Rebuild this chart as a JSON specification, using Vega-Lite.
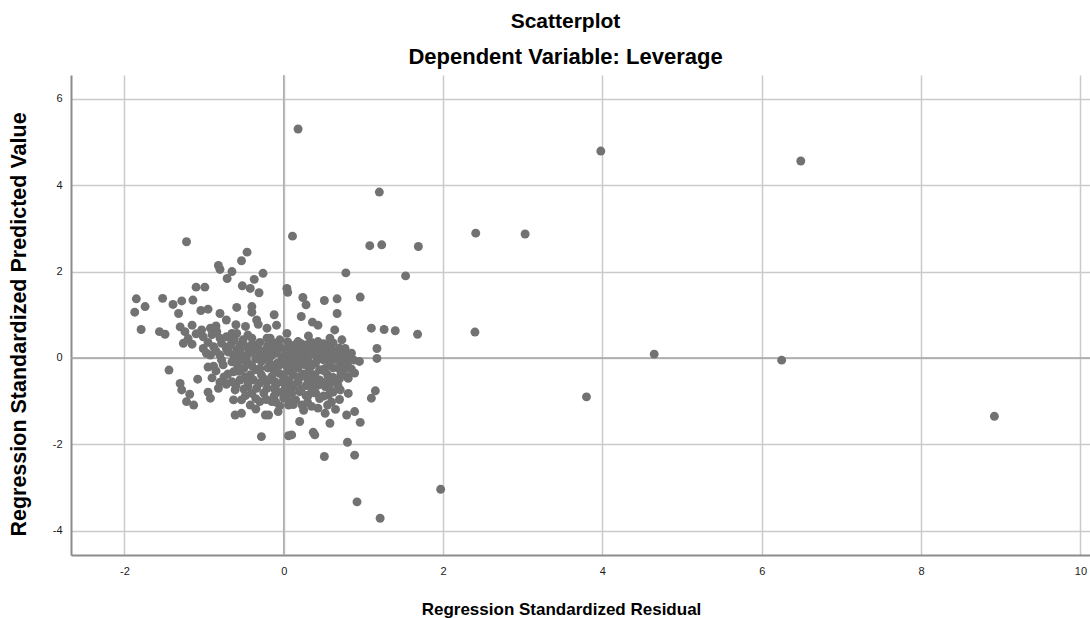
{
  "$schema": "https://vega.github.io/schema/vega-lite/v6.json",
  "autosize": "none",
  "width": 1019,
  "height": 480,
  "padding": {"left": 71, "top": 75, "right": 0, "bottom": 63},
  "background": "white",
  "config": {
    "font": "Liberation Sans",
    "view": {"stroke": null},
    "axis": {
      "domainColor": "#8c8c8c",
      "domainWidth": 2,
      "gridColor": "#cacaca",
      "gridWidth": 1.5,
      "ticks": false,
      "labelFont": "Liberation Sans",
      "labelFontSize": 11,
      "labelColor": "#1a1a1a",
      "titleFont": "Liberation Sans",
      "titleFontWeight": "bold",
      "titleColor": "#000000"
    }
  },
  "title": {
    "text": "Scatterplot",
    "subtitle": "Dependent Variable: Leverage",
    "anchor": "middle",
    "dx": -15,
    "font": "Liberation Sans",
    "fontSize": 21,
    "fontWeight": "bold",
    "color": "#000000",
    "subtitleFont": "Liberation Sans",
    "subtitleFontSize": 22,
    "subtitleFontWeight": "bold",
    "subtitleColor": "#000000",
    "subtitlePadding": 15,
    "offset": 6
  },
  "layer": [
    {
      "data": {"values": [{"v": 0}]},
      "mark": {"type": "rule", "color": "#a4a4a4", "strokeWidth": 1.5},
      "encoding": {
        "y": {"field": "v", "type": "quantitative", "scale": {"domain": [-4.56, 6.55], "nice": false, "zero": false}}
      }
    },
    {
      "data": {"values": [{"v": 0}]},
      "mark": {"type": "rule", "color": "#b0b0b0", "strokeWidth": 1.5},
      "encoding": {
        "x": {"field": "v", "type": "quantitative", "scale": {"domain": [-2.67, 10.12], "nice": false, "zero": false}}
      }
    },
    {
      "data": {
        "values": [
          {"x": 0.18, "y": 5.30}, {"x": 3.98, "y": 4.79}, {"x": 6.49, "y": 4.56}, {"x": 1.20, "y": 3.84},
          {"x": -1.22, "y": 2.69}, {"x": 0.11, "y": 2.82}, {"x": 1.08, "y": 2.60}, {"x": 1.23, "y": 2.62},
          {"x": 2.41, "y": 2.89}, {"x": 3.03, "y": 2.87}, {"x": 1.69, "y": 2.58}, {"x": 1.53, "y": 1.90},
          {"x": 0.78, "y": 1.97}, {"x": 2.40, "y": 0.60}, {"x": 1.68, "y": 0.55}, {"x": 4.65, "y": 0.09},
          {"x": 6.25, "y": -0.05}, {"x": 3.80, "y": -0.90}, {"x": 8.92, "y": -1.35}, {"x": 1.97, "y": -3.04},
          {"x": 0.92, "y": -3.33}, {"x": 1.21, "y": -3.71},
          {"x": -0.46, "y": 2.45}, {"x": -0.53, "y": 2.25}, {"x": -0.82, "y": 2.14}, {"x": -0.80, "y": 2.05},
          {"x": -0.65, "y": 2.00}, {"x": -0.71, "y": 1.84}, {"x": -0.26, "y": 1.96}, {"x": -0.37, "y": 1.82},
          {"x": -0.52, "y": 1.67}, {"x": -0.42, "y": 1.61}, {"x": -0.31, "y": 1.51}, {"x": -1.10, "y": 1.64},
          {"x": -0.99, "y": 1.64}, {"x": -1.85, "y": 1.37}, {"x": -1.52, "y": 1.38}, {"x": -1.39, "y": 1.24},
          {"x": -1.28, "y": 1.32}, {"x": -1.14, "y": 1.34}, {"x": -1.74, "y": 1.19}, {"x": -1.87, "y": 1.06},
          {"x": -1.32, "y": 1.03}, {"x": -1.04, "y": 1.10}, {"x": -0.95, "y": 1.13}, {"x": -0.59, "y": 1.17},
          {"x": -0.40, "y": 1.19}, {"x": -0.40, "y": 1.06}, {"x": -0.80, "y": 1.03}, {"x": -0.72, "y": 0.88},
          {"x": -0.34, "y": 0.88}, {"x": -0.32, "y": 0.78}, {"x": -1.79, "y": 0.66}, {"x": -1.56, "y": 0.61},
          {"x": -1.49, "y": 0.55}, {"x": -1.30, "y": 0.72}, {"x": -1.24, "y": 0.61}, {"x": -1.03, "y": 0.65},
          {"x": -0.92, "y": 0.69}, {"x": -1.01, "y": 0.49}, {"x": -0.84, "y": 0.61}, {"x": -0.80, "y": 0.46},
          {"x": -0.72, "y": 0.49}, {"x": -0.59, "y": 0.57}, {"x": -0.51, "y": 0.42}, {"x": -1.26, "y": 0.34},
          {"x": -1.15, "y": 0.32}, {"x": -1.01, "y": 0.22}, {"x": -0.88, "y": 0.26}, {"x": -0.72, "y": 0.22},
          {"x": -0.59, "y": 0.19}, {"x": -0.46, "y": 0.26}, {"x": -0.34, "y": 0.30}, {"x": -0.21, "y": 0.22},
          {"x": -0.97, "y": 0.11}, {"x": -0.80, "y": 0.07}, {"x": -0.63, "y": 0.07}, {"x": -0.46, "y": 0.07},
          {"x": -0.30, "y": 0.07}, {"x": -0.21, "y": 0.46}, {"x": -0.21, "y": 0.69},
          {"x": -1.44, "y": -0.28}, {"x": -1.08, "y": -0.49}, {"x": -1.30, "y": -0.59}, {"x": -1.28, "y": -0.74},
          {"x": -1.18, "y": -0.84}, {"x": -1.22, "y": -1.01}, {"x": -1.13, "y": -1.09}, {"x": -0.95, "y": -0.79},
          {"x": -0.92, "y": -0.93}, {"x": -0.82, "y": -0.70}, {"x": -0.72, "y": -0.61}, {"x": -0.61, "y": -0.74},
          {"x": -0.63, "y": -0.97}, {"x": -0.53, "y": -0.97}, {"x": -0.40, "y": -0.82}, {"x": -0.42, "y": -1.09},
          {"x": -0.61, "y": -1.32}, {"x": -0.53, "y": -1.28}, {"x": -0.30, "y": -1.01}, {"x": -0.23, "y": -1.32},
          {"x": -0.28, "y": -1.82}, {"x": -0.76, "y": -0.16}, {"x": -0.63, "y": -0.32}, {"x": -0.55, "y": -0.51},
          {"x": -0.42, "y": -0.39}, {"x": -0.30, "y": -0.24}, {"x": -0.21, "y": -0.55}, {"x": -0.34, "y": -0.70},
          {"x": -0.92, "y": 0.07},
          {"x": 0.04, "y": 1.61}, {"x": 0.05, "y": 1.52}, {"x": 0.24, "y": 1.40}, {"x": 0.28, "y": 1.23},
          {"x": 0.51, "y": 1.33}, {"x": 0.67, "y": 1.37}, {"x": 0.96, "y": 1.41}, {"x": 0.67, "y": 1.03},
          {"x": -0.12, "y": 1.00}, {"x": -0.09, "y": 0.76}, {"x": 0.22, "y": 0.96}, {"x": 0.36, "y": 0.83},
          {"x": 0.43, "y": 0.76}, {"x": 1.10, "y": 0.69}, {"x": 1.26, "y": 0.66}, {"x": 1.40, "y": 0.63},
          {"x": 0.64, "y": 0.65}, {"x": 0.04, "y": 0.57}, {"x": 0.31, "y": 0.51}, {"x": 0.58, "y": 0.46},
          {"x": 0.73, "y": 0.42}, {"x": -0.17, "y": 0.46}, {"x": -0.05, "y": 0.42}, {"x": 0.18, "y": 0.38},
          {"x": 0.43, "y": 0.38}, {"x": 0.77, "y": 0.22}, {"x": 0.85, "y": 0.11}, {"x": 1.17, "y": 0.22},
          {"x": 0.48, "y": 0.19}, {"x": 0.60, "y": 0.07}, {"x": 0.27, "y": 0.15}, {"x": 0.02, "y": 0.19},
          {"x": -0.15, "y": 0.15}, {"x": 0.43, "y": 0.03}, {"x": 1.17, "y": -0.01}, {"x": 0.14, "y": 0.30},
          {"x": -0.11, "y": 0.30},
          {"x": 0.81, "y": -0.09}, {"x": 0.89, "y": -0.35}, {"x": 0.81, "y": -0.47}, {"x": 0.71, "y": -0.74},
          {"x": 0.81, "y": -0.82}, {"x": 0.56, "y": -0.86}, {"x": 1.15, "y": -0.76}, {"x": 1.10, "y": -0.93},
          {"x": 0.43, "y": -1.16}, {"x": 0.52, "y": -1.28}, {"x": 0.58, "y": -1.51}, {"x": 0.79, "y": -1.32},
          {"x": 0.89, "y": -1.24}, {"x": 0.96, "y": -1.49}, {"x": 0.20, "y": -1.47}, {"x": 0.06, "y": -1.80},
          {"x": 0.10, "y": -1.78}, {"x": 0.37, "y": -1.72}, {"x": 0.39, "y": -1.78}, {"x": 0.80, "y": -1.95},
          {"x": 0.51, "y": -2.28}, {"x": 0.89, "y": -2.25}, {"x": -0.11, "y": -0.55}, {"x": 0.02, "y": -0.70},
          {"x": -0.15, "y": -1.01}, {"x": 0.06, "y": -1.09}, {"x": 0.23, "y": -1.09}, {"x": 0.31, "y": -0.86},
          {"x": 0.18, "y": -0.55}, {"x": 0.39, "y": -0.39}, {"x": 0.52, "y": -0.24}, {"x": 0.27, "y": -0.16},
          {"x": 0.02, "y": -0.16}, {"x": -0.15, "y": -0.16}, {"x": 0.43, "y": -0.63}, {"x": 0.60, "y": -0.55},
          {"x": 0.69, "y": -0.24}, {"x": -0.19, "y": -1.32}, {"x": -0.07, "y": -1.24}, {"x": -0.21, "y": -0.70},
          {"x": -0.30, "y": 0.36}, {"x": -0.12, "y": 0.34}, {"x": 0.05, "y": 0.37}, {"x": 0.22, "y": 0.33},
          {"x": 0.35, "y": 0.36}, {"x": 0.50, "y": 0.33}, {"x": 0.62, "y": 0.35},
          {"x": -0.38, "y": 0.24}, {"x": -0.05, "y": 0.26}, {"x": 0.10, "y": 0.23}, {"x": 0.30, "y": 0.27},
          {"x": 0.42, "y": 0.24}, {"x": 0.58, "y": 0.26}, {"x": 0.70, "y": 0.23},
          {"x": -0.40, "y": 0.13}, {"x": -0.25, "y": 0.11}, {"x": -0.08, "y": 0.12}, {"x": 0.12, "y": 0.10},
          {"x": 0.38, "y": 0.13}, {"x": 0.52, "y": 0.11}, {"x": 0.70, "y": 0.12},
          {"x": -0.55, "y": 0.01}, {"x": -0.35, "y": -0.02}, {"x": -0.18, "y": 0.00}, {"x": -0.02, "y": 0.02},
          {"x": 0.15, "y": -0.01}, {"x": 0.30, "y": 0.01}, {"x": 0.48, "y": -0.02}, {"x": 0.65, "y": 0.00},
          {"x": 0.82, "y": 0.02},
          {"x": -0.65, "y": -0.09}, {"x": -0.45, "y": -0.11}, {"x": -0.28, "y": -0.08}, {"x": -0.08, "y": -0.12},
          {"x": 0.08, "y": -0.10}, {"x": 0.22, "y": -0.07}, {"x": 0.40, "y": -0.11}, {"x": 0.58, "y": -0.09},
          {"x": 0.74, "y": -0.12}, {"x": 0.95, "y": -0.08},
          {"x": -0.50, "y": -0.24}, {"x": -0.35, "y": -0.27}, {"x": -0.20, "y": -0.23}, {"x": 0.10, "y": -0.26},
          {"x": 0.18, "y": -0.24}, {"x": 0.45, "y": -0.27}, {"x": 0.62, "y": -0.23}, {"x": 0.85, "y": -0.26},
          {"x": -0.70, "y": -0.37}, {"x": -0.28, "y": -0.39}, {"x": -0.05, "y": -0.36}, {"x": 0.12, "y": -0.40},
          {"x": 0.25, "y": -0.37}, {"x": 0.55, "y": -0.39}, {"x": 0.72, "y": -0.36},
          {"x": -0.38, "y": -0.51}, {"x": -0.25, "y": -0.48}, {"x": 0.05, "y": -0.52}, {"x": 0.30, "y": -0.49},
          {"x": 0.45, "y": -0.51}, {"x": 0.70, "y": -0.48},
          {"x": -0.60, "y": -0.64}, {"x": -0.45, "y": -0.66}, {"x": -0.10, "y": -0.63}, {"x": 0.12, "y": -0.67},
          {"x": 0.28, "y": -0.64}, {"x": 0.52, "y": -0.66}, {"x": 0.68, "y": -0.63},
          {"x": -0.25, "y": -0.81}, {"x": -0.05, "y": -0.79}, {"x": 0.10, "y": -0.82}, {"x": 0.20, "y": -0.78},
          {"x": 0.40, "y": -0.81}, {"x": 0.62, "y": -0.79},
          {"x": -0.35, "y": -0.94}, {"x": -0.22, "y": -0.96}, {"x": 0.00, "y": -0.93}, {"x": 0.15, "y": -0.97},
          {"x": 0.45, "y": -0.94}, {"x": 0.70, "y": -0.96},
          {"x": -0.05, "y": -1.11}, {"x": 0.12, "y": -1.08}, {"x": 0.35, "y": -1.12}, {"x": 0.55, "y": -1.09},
          {"x": 0.25, "y": -1.21}, {"x": 0.65, "y": -1.19}, {"x": -0.35, "y": -1.18},
          {"x": -1.10, "y": 0.56}, {"x": -0.90, "y": 0.54}, {"x": -0.65, "y": 0.57}, {"x": -0.45, "y": 0.53},
          {"x": -0.95, "y": 0.36}, {"x": -0.78, "y": 0.34}, {"x": -0.65, "y": 0.37},
          {"x": -0.85, "y": 0.16}, {"x": -0.70, "y": 0.14}, {"x": -0.55, "y": 0.17},
          {"x": -1.15, "y": 0.76}, {"x": -0.85, "y": 0.74}, {"x": -0.60, "y": 0.77}, {"x": -0.48, "y": 0.73},
          {"x": -0.95, "y": -0.21}, {"x": -0.88, "y": -0.19}, {"x": -0.90, "y": -0.46}, {"x": -0.75, "y": -0.44},
          {"x": -0.55, "y": 0.30}, {"x": -0.40, "y": 0.31}, {"x": -0.20, "y": 0.29}, {"x": 0.30, "y": 0.31}, {"x": 0.56, "y": 0.29},
          {"x": -0.30, "y": 0.18}, {"x": -0.15, "y": 0.19}, {"x": 0.05, "y": 0.17}, {"x": 0.20, "y": 0.18}, {"x": 0.35, "y": 0.19}, {"x": 0.62, "y": 0.17},
          {"x": -0.15, "y": 0.06}, {"x": 0.05, "y": 0.05}, {"x": 0.22, "y": 0.07}, {"x": 0.40, "y": 0.06}, {"x": 0.55, "y": 0.05}, {"x": 0.75, "y": 0.07},
          {"x": -0.50, "y": -0.05}, {"x": -0.20, "y": -0.04}, {"x": 0.00, "y": -0.06}, {"x": 0.30, "y": -0.05}, {"x": 0.50, "y": -0.04}, {"x": 0.68, "y": -0.06}, {"x": 0.88, "y": -0.05},
          {"x": -0.58, "y": -0.17}, {"x": -0.40, "y": -0.18}, {"x": -0.05, "y": -0.16}, {"x": 0.15, "y": -0.17}, {"x": 0.35, "y": -0.18}, {"x": 0.58, "y": -0.16}, {"x": 0.78, "y": -0.17},
          {"x": -0.58, "y": -0.30}, {"x": -0.12, "y": -0.29}, {"x": 0.05, "y": -0.31}, {"x": 0.32, "y": -0.30}, {"x": 0.50, "y": -0.29}, {"x": 0.75, "y": -0.31},
          {"x": -0.48, "y": -0.44}, {"x": -0.15, "y": -0.43}, {"x": 0.00, "y": -0.45}, {"x": 0.20, "y": -0.44}, {"x": 0.38, "y": -0.43}, {"x": 0.62, "y": -0.45}, {"x": 0.80, "y": -0.44},
          {"x": -0.45, "y": -0.57}, {"x": -0.30, "y": -0.58}, {"x": -0.02, "y": -0.56}, {"x": 0.08, "y": -0.58}, {"x": 0.36, "y": -0.57}, {"x": 0.52, "y": -0.56},
          {"x": -0.50, "y": -0.72}, {"x": -0.12, "y": -0.71}, {"x": 0.05, "y": -0.73}, {"x": 0.22, "y": -0.72}, {"x": 0.35, "y": -0.71}, {"x": 0.58, "y": -0.73},
          {"x": -0.48, "y": -0.87}, {"x": -0.12, "y": -0.88}, {"x": 0.03, "y": -0.86}, {"x": 0.28, "y": -0.87}, {"x": 0.50, "y": -0.88},
          {"x": -0.10, "y": -1.02}, {"x": 0.08, "y": -1.01}, {"x": 0.30, "y": -1.03}, {"x": 0.60, "y": -1.02},
          {"x": -1.20, "y": 0.45}, {"x": -0.62, "y": 0.44}, {"x": -0.40, "y": 0.46},
          {"x": -0.68, "y": 0.28}, {"x": -0.50, "y": 0.27},
          {"x": -0.78, "y": -0.05}, {"x": -0.62, "y": -0.04},
          {"x": -0.85, "y": -0.30}, {"x": -0.55, "y": -0.31},
          {"x": -0.65, "y": -0.55}, {"x": -0.80, "y": -0.56}
        ]
      },
      "mark": {"type": "point", "shape": "circle", "filled": true, "size": 80, "color": "#727272", "opacity": 1},
      "encoding": {
        "x": {
          "field": "x", "type": "quantitative",
          "scale": {"domain": [-2.67, 10.12], "nice": false, "zero": false},
          "axis": {
            "values": [-2, 0, 2, 4, 6, 8, 10],
            "labelExpr": "'' + datum.value",
            "title": "Regression Standardized Residual",
            "titleFontSize": 17,
            "labelPadding": 10,
            "titleX": 490, "titleY": 54, "titleAlign": "center", "titleBaseline": "middle"
          }
        },
        "y": {
          "field": "y", "type": "quantitative",
          "scale": {"domain": [-4.56, 6.55], "nice": false, "zero": false},
          "axis": {
            "values": [-4, -2, 0, 2, 4, 6],
            "labelExpr": "'' + datum.value",
            "title": "Regression Standardized Predicted Value",
            "titleFontSize": 21.5,
            "labelPadding": 9,
            "titleX": -52, "titleY": 249, "titleAngle": 270, "titleAlign": "center", "titleBaseline": "middle"
          }
        }
      }
    }
  ]
}
